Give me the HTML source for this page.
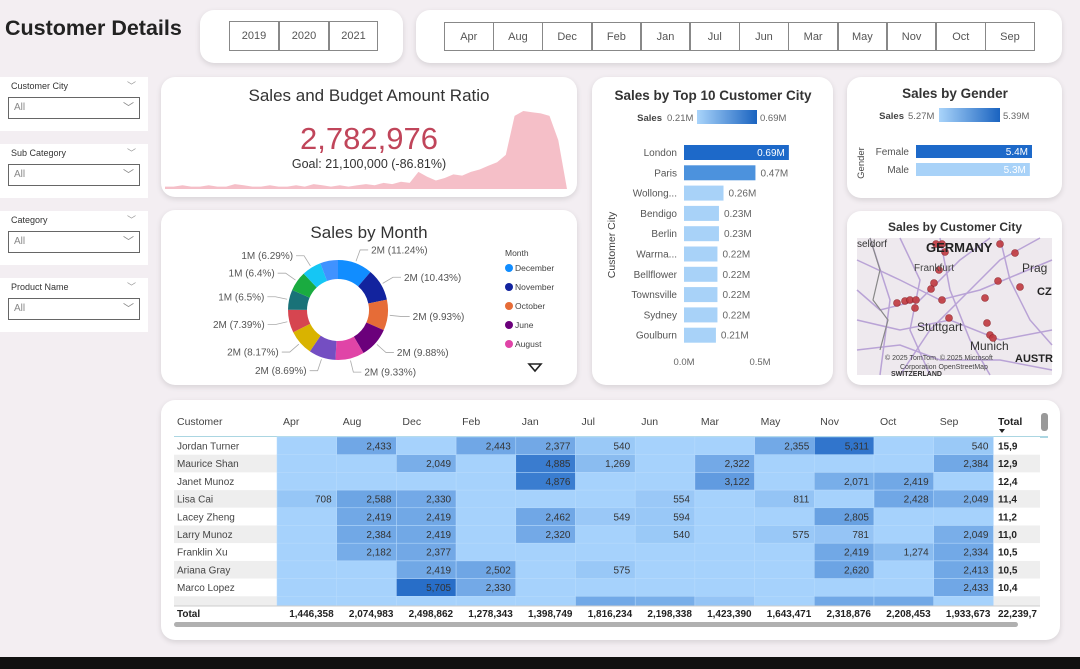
<!DOCTYPE html>
<html><head><meta charset="utf-8">
<style>
*{box-sizing:border-box;margin:0;padding:0}
body{width:1080px;height:669px;background:#F3EEF2;font-family:"Liberation Sans",sans-serif;position:relative;overflow:hidden;color:#333}
.card{position:absolute;background:#fff;border-radius:14px;box-shadow:0 2px 6px rgba(0,0,0,0.12)}
.btn{position:absolute;border:1px solid #888;background:#fff;font-size:11px;color:#555;text-align:center;line-height:28px}
.slicer{position:absolute;left:0;width:148px;height:54px;background:#fff}
.slicer .t{position:absolute;left:11px;top:4px;font-size:9px;color:#333}
.slicer .c{position:absolute;right:12px;top:2px;font-size:9px;color:#999}
.slicer .dd{position:absolute;left:8px;top:20px;width:132px;height:22px;border:1px solid #666;font-size:10px;color:#888;padding:4px 5px}
.slicer .dd span{position:absolute;right:5px;top:1px;color:#888;font-size:11px}
svg text{font-family:"Liberation Sans",sans-serif}
</style></head><body>
<div style="position:absolute;left:5px;top:16px;font-size:21.5px;font-weight:bold;color:#222">Customer Details</div>

<div class="card" style="left:200px;top:10px;width:203px;height:53px"></div>
<div class="btn" style="left:229px;top:21px;width:50px;height:30px">2019</div>
<div class="btn" style="left:279px;top:21px;width:50px;height:30px">2020</div>
<div class="btn" style="left:329px;top:21px;width:49px;height:30px">2021</div>

<div class="card" style="left:416px;top:10px;width:646px;height:53px"></div>
<div id="months"></div>

<div class="slicer" style="top:77px"><div class="t">Customer City</div><div class="c">﹀</div><div class="dd">All<span>﹀</span></div></div>
<div class="slicer" style="top:144px"><div class="t">Sub Category</div><div class="c">﹀</div><div class="dd">All<span>﹀</span></div></div>
<div class="slicer" style="top:211px"><div class="t">Category</div><div class="c">﹀</div><div class="dd">All<span>﹀</span></div></div>
<div class="slicer" style="top:278px"><div class="t">Product Name</div><div class="c">﹀</div><div class="dd">All<span>﹀</span></div></div>

<!-- KPI -->
<div class="card" style="left:161px;top:77px;width:416px;height:120px;overflow:hidden">
<svg width="416" height="120" style="position:absolute;left:0;top:0"><path id="kpiArea" fill="#F4B8C2" opacity="0.9"/></svg>
<div style="position:absolute;left:0;width:416px;top:9px;text-align:center;font-size:17px;color:#333">Sales and Budget Amount Ratio</div>
<div style="position:absolute;left:0;width:416px;top:44px;text-align:center;font-size:31px;color:#C0455A">2,782,976</div>
<div style="position:absolute;left:0;width:416px;top:80px;text-align:center;font-size:12.5px;color:#333">Goal: 21,100,000 (-86.81%)</div>
</div>

<!-- Donut -->
<div class="card" style="left:161px;top:210px;width:416px;height:175px">
<div style="position:absolute;left:0;width:416px;top:13px;text-align:center;font-size:17px;color:#333;padding-left:0">Sales by Month</div>
</div>
<svg id="donut" width="1080" height="669" style="position:absolute;left:0;top:0;pointer-events:none"></svg>

<!-- cards drawn before chart svgs -->
<div class="card" style="left:592px;top:77px;width:241px;height:308px"></div>
<div class="card" style="left:847px;top:77px;width:215px;height:121px"></div>
<div class="card" style="left:847px;top:211px;width:215px;height:174px"></div>
<div class="card" style="left:161px;top:400px;width:899px;height:240px;overflow:hidden"></div>

<svg id="bars" width="1080" height="669" style="position:absolute;left:0;top:0"></svg>
<svg id="map" width="1080" height="669" style="position:absolute;left:0;top:0"></svg>
<svg id="table" width="1080" height="669" style="position:absolute;left:0;top:0"></svg>

<div style="position:absolute;left:0;top:657px;width:1080px;height:12px;background:#111"></div>

<script>
// ---------- data ----------
const monthButtons=["Apr","Aug","Dec","Feb","Jan","Jul","Jun","Mar","May","Nov","Oct","Sep"];
const kpiTrend=[2,2,3,2,2,3,2,2,4,3,2,2,3,2,2,3,2,4,3,2,3,2,3,4,3,5,4,6,5,14,10,7,9,12,11,14,16,19,22,28,60,64,63,62,60,40,0];
const donutMonths=["December","November","October","June","August","July","September","March","May","April","January","February"];
const donutPct=[11.24,10.43,9.93,9.88,9.33,8.69,8.17,7.39,6.5,6.4,6.29,5.75];
const donutLabels=["2M","2M","2M","2M","2M","2M","2M","2M","1M","1M","1M",""];
const cityNames=["London","Paris","Wollong...","Bendigo","Berlin","Warrna...","Bellflower","Townsville","Sydney","Goulburn"];
const citySales=[0.69,0.47,0.26,0.23,0.23,0.22,0.22,0.22,0.22,0.21];
const cityTicks=[0,0.5];
const genderNames=["Female","Male"];
const genderSales=[5.4,5.3];
const custNames=["Jordan Turner","Maurice Shan","Janet Munoz","Lisa Cai","Lacey Zheng","Larry Munoz","Franklin Xu","Ariana Gray","Marco Lopez","Willie Xu"];
const custTotals=["15,9","12,9","12,4","11,4","11,2","11,0","10,5","10,5","10,4","9,9"];
const cellValues=[
[null,2433,null,2443,2377,540,null,null,2355,5311,null,540],
[null,null,2049,null,4885,1269,null,2322,null,null,null,2384],
[null,null,null,null,4876,null,null,3122,null,2071,2419,null],
[708,2588,2330,null,null,null,554,null,811,null,2428,2049],
[null,2419,2419,null,2462,549,594,null,null,2805,null,null],
[null,2384,2419,null,2320,null,540,null,575,781,null,2049],
[null,2182,2377,null,null,null,null,null,null,2419,1274,2334],
[null,null,2419,2502,null,575,null,null,null,2620,null,2413],
[null,null,5705,2330,null,null,null,null,null,null,null,2433],
[null,null,null,null,null,2335,2071,777,null,2393,2395,null]];
const colTotals=["1,446,358","2,074,983","2,498,862","1,278,343","1,398,749","1,816,234","2,198,338","1,423,390","1,643,471","2,318,876","2,208,453","1,933,673"];
const grandTotal="22,239,7";

const NS="http://www.w3.org/2000/svg";
function mk(p,tag,attrs,txt){const e=document.createElementNS(NS,tag);for(const k in attrs)e.setAttribute(k,attrs[k]);if(txt!==undefined)e.textContent=txt;p.appendChild(e);return e;}

// month buttons
const mb=document.getElementById('months');
monthButtons.forEach((m,i)=>{const d=document.createElement('div');d.className='btn';


d.style.left=(444+i*49.2)+'px';d.style.top='22px';d.style.width='49.5px';d.style.height='29px';d.textContent=m;mb.appendChild(d);});

// KPI area
(function(){const bottom=112,n=kpiTrend.length;const x0=4,x1=406;
const sx=i=>x0+(x1-x0)*i/(n-1);const sy=v=>bottom-v/64*(bottom-34);
let d='M'+x0+','+bottom;kpiTrend.forEach((v,i)=>d+=' L'+sx(i).toFixed(1)+','+sy(v).toFixed(1));d+=' L'+x1+','+bottom+' Z';
document.getElementById('kpiArea').setAttribute('d',d);})();

// Donut
(function(){const s=document.getElementById('donut');const cx=338,cy=310,R=50,r=31;
const colors=["#118DFF","#12239E","#E66C37","#6B007B","#E044A7","#744EC2","#D9B300","#D64550","#197278","#1AAB40","#15C6F4","#4092FF"];
const tot=donutPct.reduce((a,b)=>a+b,0);let a=-Math.PI/2;
donutPct.forEach((p,i)=>{const a2=a+p/tot*2*Math.PI;
const pt=(rr,an)=>[cx+rr*Math.cos(an),cy+rr*Math.sin(an)];
const [x1,y1]=pt(R,a),[x2,y2]=pt(R,a2),[x3,y3]=pt(r,a2),[x4,y4]=pt(r,a);const lg=(a2-a)>Math.PI?1:0;
const path=mk(s,'path',{d:`M${x1},${y1} A${R},${R} 0 ${lg} 1 ${x2},${y2} L${x3},${y3} A${r},${r} 0 ${lg} 0 ${x4},${y4} Z`,fill:colors[i]});


if(donutLabels[i]){const m=(a+a2)/2;const [lx1,ly1]=pt(R+2,m);const right=Math.cos(m)>=0;
const [lx2,ly2]=pt(R+14,m);const ex=lx2+(right?8:-8);
mk(s,'polyline',{points:`${lx1},${ly1} ${lx2},${ly2} ${ex},${ly2}`,fill:'none',stroke:'#aaa','stroke-width':0.8});
const t=mk(s,'text',{x:ex+(right?3:-3),y:ly2+3.5,'font-size':10,fill:'#555','text-anchor':right?'start':'end'},donutLabels[i]+' ('+p+'%)');

}
a=a2;});
const lt=mk(s,'text',{x:505,y:256,'font-size':8.5,fill:'#444'},'Month');

for(let i=0;i<5;i++){const y=268+i*19;mk(s,'circle',{cx:509,cy:y,r:4,fill:colors[i]});
const t=mk(s,'text',{x:515,y:y+3,'font-size':8.5,fill:'#444'},donutMonths[i]);
}
const tri=mk(s,'path',{d:'M529,364 L541,364 L535,371 Z',fill:'none',stroke:'#222','stroke-width':1.6});

})();

// Top 10 bars + gender
(function(){const s=document.getElementById('bars');
mk(s,'defs',{}).innerHTML='<linearGradient id="g1"><stop offset="0" stop-color="#A9D4FA"/><stop offset="1" stop-color="#1A63C0"/></linearGradient>';
const t=mk(s,'text',{x:713,y:100,'font-size':13.5,'font-weight':'bold','text-anchor':'middle',fill:'#333'},'Sales by Top 10 Customer City');

mk(s,'text',{x:662,y:121,'font-size':9.5,'font-weight':'bold','text-anchor':'end',fill:'#444'},'Sales');
mk(s,'text',{x:667,y:121,'font-size':9.5,fill:'#666'},Math.min(...citySales)+'M');
mk(s,'rect',{x:697,y:110,width:60,height:14,fill:'url(#g1)'});
mk(s,'text',{x:760,y:121,'font-size':9.5,fill:'#666'},Math.max(...citySales)+'M');
const x0=684,k=152,y0=145,step=20.3,h=15;const sx=v=>x0+v*k;
const mx=Math.max(...citySales),mn=Math.min(...citySales);
const col=v=>{const f=(v-mn)/(mx-mn);if(f>0.8)return '#1D69C9';if(f>0.45)return '#4C92DD';return '#A8D2F8';};
cityNames.forEach((c,i)=>{const y=y0+i*step,v=citySales[i];
const b=mk(s,'rect',{x:x0,y:y,width:sx(v)-x0,height:h,fill:col(v)});

mk(s,'text',{x:677,y:y+11,'font-size':10,'text-anchor':'end',fill:'#555'},c);
if(i==0)mk(s,'text',{x:sx(v)-4,y:y+11,'font-size':10,'text-anchor':'end',fill:'#fff'},v.toFixed(2)+'M');
else mk(s,'text',{x:sx(v)+5,y:y+11,'font-size':10,fill:'#666'},v.toFixed(2)+'M');});
cityTicks.forEach(v=>mk(s,'text',{x:sx(v),y:365,'font-size':9.5,'text-anchor':'middle',fill:'#666'},v.toFixed(1)+'M'));
const ya=mk(s,'text',{x:615,y:245,'font-size':10.5,fill:'#444','text-anchor':'middle',transform:'rotate(-90 615 245)'},'Customer City');

// gender
const gt=mk(s,'text',{x:955,y:98,'font-size':13.5,'font-weight':'bold','text-anchor':'middle',fill:'#333'},'Sales by Gender');

mk(s,'text',{x:904,y:119,'font-size':9.5,'font-weight':'bold','text-anchor':'end',fill:'#444'},'Sales');
mk(s,'text',{x:908,y:119,'font-size':9.5,fill:'#666'},'5.27M');
mk(s,'rect',{x:939,y:108,width:61,height:14,fill:'url(#g1)'});
mk(s,'text',{x:1003,y:119,'font-size':9.5,fill:'#666'},'5.39M');
mk(s,'text',{x:864,y:163,'font-size':9.5,fill:'#444','text-anchor':'middle',transform:'rotate(-90 864 163)'},'Gender');
const gx=916,gk=116/5.4;
genderNames.forEach((g,i)=>{const y=145+i*18,v=genderSales[i];
const b=mk(s,'rect',{x:gx,y:y,width:v*gk,height:13,fill:i==0?'#1D69C9':'#A8D2F8'});

mk(s,'text',{x:909,y:y+10,'font-size':10,'text-anchor':'end',fill:'#555'},g);
mk(s,'text',{x:gx+v*gk-4,y:y+10,'font-size':10,'text-anchor':'end',fill:'#fff'},v+'M');});
})();

// Map
(function(){const s=document.getElementById('map');
const t=mk(s,'text',{x:955,y:231,'font-size':12,'font-weight':'bold','text-anchor':'middle',fill:'#333'},'Sales by Customer City');

const bg=mk(s,'rect',{x:857,y:238,width:195,height:137,fill:'#EEE9EE'});

const roads=[[857,260,900,280,940,300,980,290,1052,260],[870,238,890,300,880,375],[900,375,930,330,960,300,1000,260,1040,238],[857,320,900,330,950,320,1000,340,1052,330],[940,238,950,290,970,340,990,375],[857,350,900,345,940,360,1000,360,1052,370],[1000,238,1010,280,1030,320,1052,345],[857,290,880,310,920,300,960,260,990,238],[900,238,920,280,910,330,930,375]];
roads.forEach(r=>mk(s,'polyline',{points:r.join(' '),fill:'none',stroke:'#B9A3D6','stroke-width':1.5}));
mk(s,'polyline',{points:'870,238 880,270 873,300 888,320 880,350',fill:'none',stroke:'#888','stroke-width':1.2});
const dots=[[936,244],[942,244],[945,252],[1000,244],[1015,253],[939,270],[998,281],[1020,287],[934,283],[931,289],[985,298],[897,303],[905,301],[910,300],[916,300],[915,308],[949,318],[987,323],[990,335],[993,338],[942,300]];
dots.forEach(d=>mk(s,'circle',{cx:d[0],cy:d[1],r:3.5,fill:'#C0393F',stroke:'#8a1f25','stroke-width':0.6,opacity:0.9}));
mk(s,'text',{x:926,y:252,'font-size':13,'font-weight':'bold',fill:'#222'},'GERMANY');
mk(s,'text',{x:857,y:247,'font-size':10,fill:'#333'},'seldorf');
mk(s,'text',{x:914,y:271,'font-size':10,fill:'#444'},'Frankfurt');
mk(s,'text',{x:1022,y:272,'font-size':12,fill:'#333'},'Prag');
mk(s,'text',{x:1037,y:295,'font-size':11,'font-weight':'bold',fill:'#222'},'CZ');
mk(s,'text',{x:917,y:331,'font-size':12,fill:'#333'},'Stuttgart');
mk(s,'text',{x:970,y:350,'font-size':12,fill:'#333'},'Munich');
mk(s,'text',{x:1015,y:362,'font-size':11,'font-weight':'bold',fill:'#222'},'AUSTR');
mk(s,'text',{x:885,y:360,'font-size':7,fill:'#444'},'© 2025 TomTom, © 2025 Microsoft');
mk(s,'text',{x:900,y:369,'font-size':7,fill:'#444'},'Corporation  OpenStreetMap');
mk(s,'text',{x:891,y:376,'font-size':7,'font-weight':'bold',fill:'#333'},'SWITZERLAND');
})();

// Table
(function(){const s=document.getElementById('table');
const colX0=277,cw=59.7,rowY0=437,rh=17.7;
const cx=i=>colX0+i*cw;
mk(s,'text',{x:177,y:425,'font-size':10.5,fill:'#444'},'Customer');
monthButtons.forEach((m,i)=>mk(s,'text',{x:cx(i)+6,y:425,'font-size':10.5,fill:'#444'},m));
mk(s,'text',{x:998,y:425,'font-size':10.5,'font-weight':'bold',fill:'#222'},'Total');
mk(s,'path',{d:'M999,429 L1005,429 L1002,433 Z',fill:'#222'});
mk(s,'rect',{x:1041,y:413,width:7,height:18,rx:3,fill:'#999'});
mk(s,'line',{x1:174,y1:437,x2:1048,y2:437,stroke:'#8FC9D9','stroke-width':1.5});
const maxV=5705;
const colr=v=>{if(v==null)return 'rgb(166,210,252)';const f=Math.min(1,v/maxV);const c0=[166,210,252],c1=[40,110,200];
return 'rgb('+c0.map((a,j)=>Math.round(a+(c1[j]-a)*f)).join(',')+')';};
custNames.forEach((n,r)=>{const y=rowY0+r*rh;const h=r==9?Math.min(rh,606-y):rh;
mk(s,'rect',{x:174,y:y,width:103,height:h,fill:r%2?'#EEEEEE':'#fff'});
mk(s,'rect',{x:cx(12),y:y,width:1040-cx(12),height:h,fill:r%2?'#EEEEEE':'#fff'});
cellValues[r].forEach((v,c)=>{const rc=mk(s,'rect',{x:cx(c),y:y,width:cw,height:h,fill:colr(v),stroke:'#B8DBFC','stroke-width':0.5});


if(v!=null&&r<9)mk(s,'text',{x:cx(c)+cw-5,y:y+12.5,'font-size':10,'text-anchor':'end',fill:'#333'},v.toLocaleString('en-US'));});
if(r<9){mk(s,'text',{x:177,y:y+12.5,'font-size':10,fill:'#444'},n);
mk(s,'text',{x:998,y:y+12.5,'font-size':10,'font-weight':'bold',fill:'#222'},custTotals[r]);}
});
mk(s,'line',{x1:174,y1:606,x2:1040,y2:606,stroke:'#ccc','stroke-width':1});
mk(s,'text',{x:177,y:617,'font-size':10,'font-weight':'bold',fill:'#222'},'Total');
colTotals.forEach((t,i)=>mk(s,'text',{x:cx(i)+cw-3,y:617,'font-size':10,'font-weight':'bold','text-anchor':'end',fill:'#222'},t));
mk(s,'text',{x:998,y:617,'font-size':10,'font-weight':'bold',fill:'#222'},grandTotal);
const sb=mk(s,'rect',{x:174,y:622,width:844,height:5,rx:2.5,fill:'#B0B0B0'});

})();
</script>
</body></html>
